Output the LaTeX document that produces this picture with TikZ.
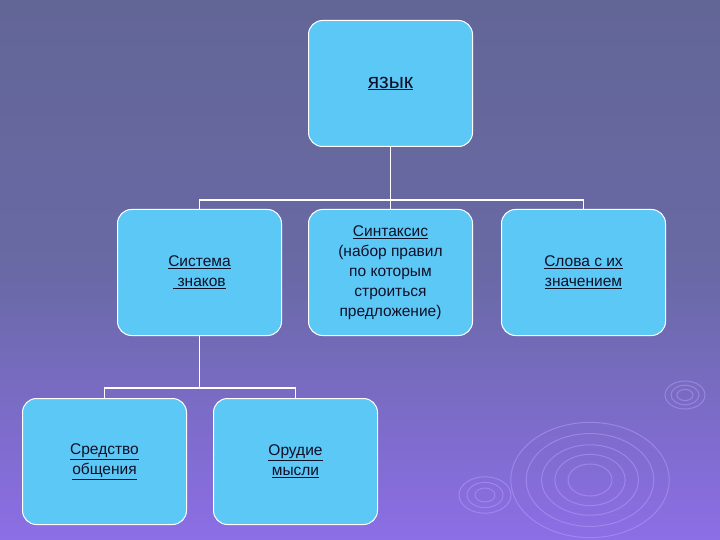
\documentclass[tikz,border=0pt]{standalone}
\usepackage{fontspec}
\setmainfont{Liberation Sans}
\begin{document}
\begin{tikzpicture}[x=1pt,y=-1pt,
  box/.style={draw=white,line width=1pt,fill={rgb,255:red,92;green,200;blue,245},rounded corners=14pt,minimum width=164pt,minimum height=126pt,anchor=north west,align=center,font=\fontsize{15.5}{20}\selectfont,text={rgb,255:red,15;green,15;blue,40}},
  conn/.style={draw=white,line width=1.5pt}]
\shade[top color={rgb,255:red,98;green,102;blue,150},bottom color={rgb,255:red,140;green,110;blue,230},middle color={rgb,255:red,105;green,105;blue,165}] (0,0) rectangle (720,540);
\useasboundingbox (0,0) rectangle (720,540);
\begin{scope}[draw={rgb,255:red,175;green,150;blue,245},line width=1pt,opacity=0.6]
\foreach \r in {20,32,44,58,72} \draw (590,480) ellipse ({\r*1.1} and {\r*0.8});
\foreach \r in {8,14,20} \draw (685,395) ellipse ({\r} and {\r*0.7});
\foreach \r in {10,18,26} \draw (485,495) ellipse ({\r} and {\r*0.7});
\end{scope}
\node[box,font=\fontsize{21}{24}\selectfont] (lang) at (308,20) {\underline{язык}};
\node[box] (sys) at (117,209) {\underline{Система}\\ \underline{\ знаков}};
\node[box] (syn) at (308,209) {\underline{Синтаксис}\\(набор правил\\по которым\\строиться\\предложение)};
\node[box] (words) at (501,209) {\underline{Слова с их}\\\underline{значением}};
\node[box] (means) at (22,398) {\underline{Средство}\\\underline{общения}};
\node[box] (tool) at (213,398) {\underline{Орудие}\\\underline{мысли}};
\coordinate (j1) at (lang.south |- 0,200);
\draw[conn] (lang.south) -- (j1);
\draw[conn] (sys.north) |- (j1) -| (words.north);
\draw[conn] (j1) -- (syn.north);
\coordinate (j2) at (sys.south |- 0,388);
\draw[conn] (sys.south) -- (j2);
\draw[conn] (means.north) |- (j2) -| (tool.north);
\end{tikzpicture}
\end{document}
